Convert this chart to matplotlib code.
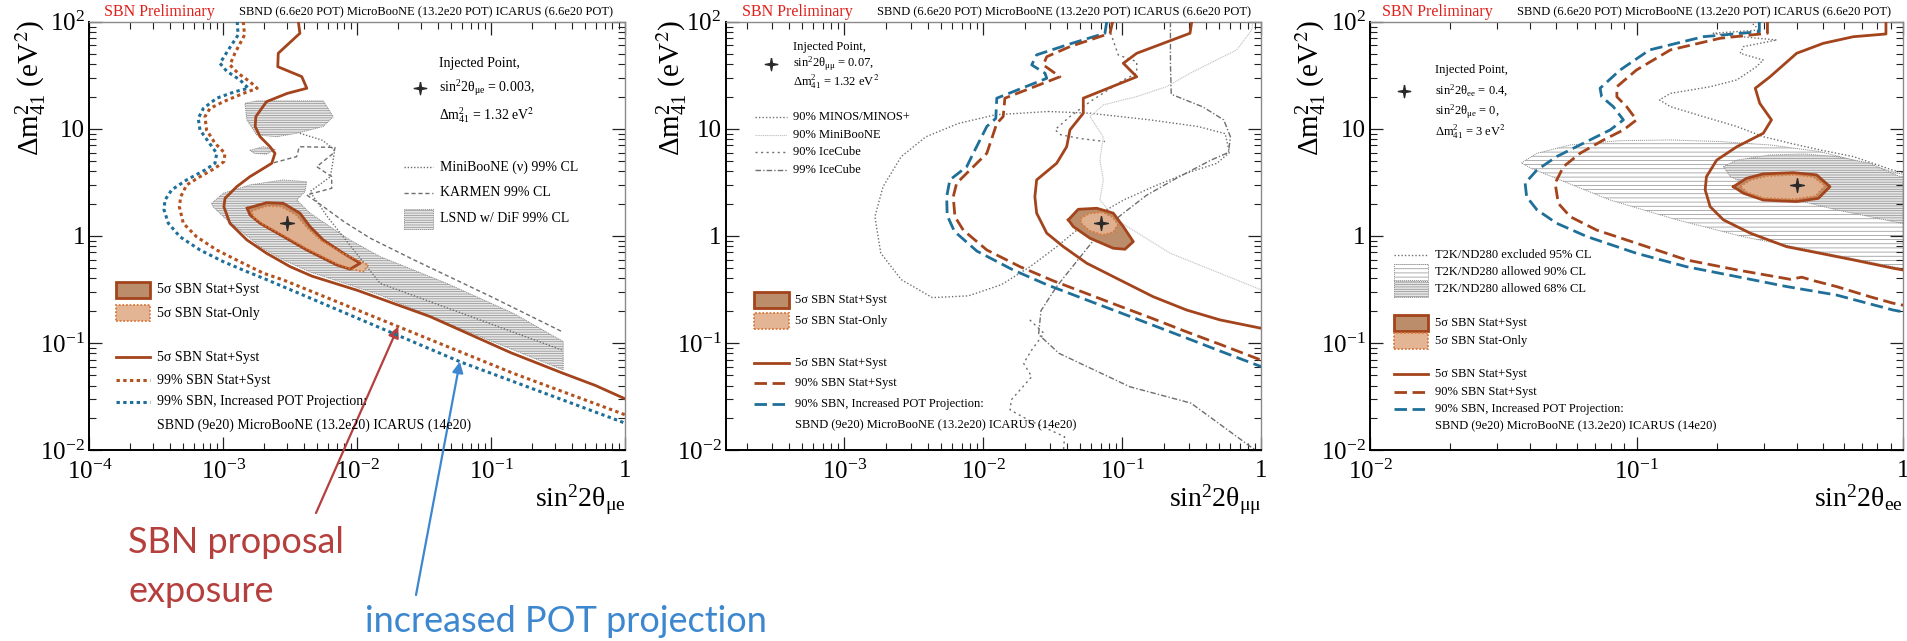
import numpy as np
import matplotlib
matplotlib.use("Agg")
import matplotlib.pyplot as plt
from matplotlib.lines import Line2D
from matplotlib.patches import Rectangle
from matplotlib.ticker import LogLocator, NullFormatter

plt.rcParams['font.family'] = ['Liberation Serif', 'DejaVu Serif']
plt.rcParams['mathtext.fontset'] = 'stix'
plt.rcParams['hatch.linewidth'] = 0.5

# ======================= DATA =======================
# ---- Panel 1: sin^2 2theta_mue ----
p1_solid_x = [3.63e-3, 3.73e-3, 2.57e-3, 2.55e-3, 3.85e-3, 4.2e-3, 3.0e-3, 2.1e-3, 1.75e-3, 1.73e-3, 1.88e-3,
              2.23e-3, 2.43e-3, 2.3e-3, 1.58e-3, 1.26e-3, 1.03e-3, 1.01e-3, 1.12e-3, 1.5e-3, 2.1e-3, 3.15e-3,
              4.6e-3, 1.0e-2, 3.5e-2, 0.14, 0.344, 0.6, 1.0]
p1_solid_y = [100, 78, 50.7, 38, 30.7, 23.9, 21.4, 17.9, 13, 10.5, 8.44, 6.8, 5.9, 4.76, 3.57, 2.88, 2.24, 1.87,
              1.31, 0.916, 0.689, 0.516, 0.42, 0.31, 0.176, 0.081, 0.052, 0.040, 0.030]
p1_dot_x = [1.41e-3, 1.44e-3, 1.22e-3, 1.12e-3, 1.29e-3, 1.58e-3, 1.79e-3, 1.41e-3, 1.0e-3, 7.96e-4, 7.3e-4,
            7.5e-4, 8.67e-4, 1.03e-3, 1.01e-3, 8.67e-4, 6.7e-4, 5.33e-4, 4.81e-4, 4.7e-4, 5.03e-4, 6.32e-4,
            8.93e-4, 1.33e-3, 1.99e-3, 2.81e-3, 2.02e-2, 0.146, 1.0]
p1_dot_y = [100, 75.2, 50.7, 39.5, 33, 27.5, 23.9, 21.4, 17.9, 15.5, 13, 9.75, 7.33, 5.9, 4.93, 4.28, 3.57,
            2.99, 2.32, 1.87, 1.31, 0.98, 0.738, 0.574, 0.448, 0.387, 0.142, 0.052, 0.0213]
p1_blue_x = [1.27e-3, 1.29e-3, 1.09e-3, 9.44e-4, 1.06e-3, 1.33e-3, 1.54e-3, 1.22e-3, 8.93e-4, 7.1e-4, 6.5e-4,
             6.7e-4, 7.73e-4, 8.93e-4, 8.67e-4, 7.3e-4, 5.33e-4, 4.12e-4, 3.67e-4, 3.61e-4, 3.89e-4, 4.75e-4,
             6.7e-4, 1.0e-3, 1.5e-3, 1.99e-3, 5.83e-2, 1.0]
p1_blue_y = [100, 75.2, 54.5, 40.9, 34.5, 28.6, 23.9, 22.2, 19.3, 15.5, 12.5, 9.75, 7.59, 5.9, 4.76, 4.12,
             3.33, 2.69, 2.16, 1.75, 1.31, 0.98, 0.738, 0.574, 0.463, 0.402, 0.0668, 0.0178]
p1_syst_x = [1.51e-3, 2.11e-3, 2.81e-3, 3.73e-3, 4.44e-3, 5.57e-3, 7.86e-3, 1.05e-2, 8.83e-3, 7.02e-3,
             4.19e-3, 2.81e-3, 1.88e-3, 1.58e-3]
p1_syst_y = [1.81, 2.04, 2.01, 1.63, 1.22, 0.916, 0.689, 0.555, 0.488, 0.535, 0.738, 0.984, 1.31, 1.57]
p1_stat_x = [1.62e-3, 2.1e-3, 2.7e-3, 3.5e-3, 4.25e-3, 5.4e-3, 7.9e-3, 1.21e-2, 1.11e-2, 8.9e-3, 7.0e-3,
             4.2e-3, 2.85e-3, 1.95e-3, 1.68e-3]
p1_stat_y = [1.7, 1.9, 1.88, 1.57, 1.18, 0.9, 0.68, 0.535, 0.463, 0.49, 0.55, 0.76, 1.0, 1.3, 1.5]
p1_inj = (0.003, 1.32)
lsnd_up_x = [1.45e-3, 1.77e-3, 5.57e-3, 6.62e-3, 5.57e-3, 3.53e-3, 2.51e-3, 1.77e-3, 1.5e-3]
lsnd_up_y = [17.3, 18.2, 18.2, 13, 10.5, 9.08, 8.43, 8.75, 12.1]
lsnd_small_x = [1.58e-3, 2.0e-3, 2.43e-3, 2.1e-3, 1.7e-3]
lsnd_small_y = [6.3, 6.8, 6.4, 5.8, 5.9]
lsnd_main_x = [8.18e-4, 1.0e-3, 1.58e-3, 2.8e-3, 4.19e-3, 4.07e-3, 3.53e-3, 4.44e-3, 6.25e-3, 8.8e-3, 0.0148,
               0.0465, 0.146, 0.344, 0.344, 0.146, 0.0465, 0.0148, 6.25e-3, 4.44e-3, 2.8e-3, 1.88e-3, 1.33e-3,
               1.0e-3, 8.4e-4]
lsnd_main_y = [2.01, 2.5, 2.99, 3.33, 3.2, 2.59, 2.16, 1.63, 1.22, 0.916, 0.64, 0.36, 0.189, 0.103, 0.056,
               0.086, 0.153, 0.28, 0.40, 0.46, 0.596, 0.794, 1.13, 1.51, 1.87]
karmen_x = [1.58e-3, 2.3e-3, 3.53e-3, 3.69e-3, 6.82e-3, 6.62e-3, 4.98e-3, 6.44e-3, 6.44e-3, 4.19e-3, 5.5e-3,
            8e-3, 0.0125, 0.0262, 0.1, 0.335]
karmen_y = [3.57, 4.76, 5.5, 6.8, 6.7, 5.9, 4.43, 3.57, 2.78, 2.41, 1.9, 1.35, 0.95, 0.6, 0.27, 0.128]
mb1_x = [3.73e-3, 5.5e-3, 6.78e-3, 6.6e-3, 6.3e-3, 4.44e-3, 6.0e-3, 1.48e-2, 8.24e-2, 0.335]
mb1_y = [9.08, 7.8, 6.34, 5.1, 3.57, 2.59, 1.5, 0.36, 0.164, 0.086]

# ---- Panel 2: sin^2 2theta_mumu ----
p2_solid_x = [0.316, 0.307, 0.127, 0.1017, 0.127, 0.0524, 0.0524, 0.042, 0.0398, 0.0337, 0.0242, 0.0235,
              0.0242, 0.0286, 0.0377, 0.0555, 0.0962, 0.167, 0.29, 0.505, 1.0]
p2_solid_y = [100, 78, 50.7, 40.9, 30.6, 19.3, 13.96, 9.75, 6.8, 4.76, 3.33, 2.32, 1.63, 1.06, 0.792, 0.555,
              0.387, 0.27, 0.203, 0.164, 0.137]
p2_dash_x = [0.0853, 0.0816, 0.042, 0.0286, 0.027, 0.0356, 0.0143, 0.0139, 0.0125, 0.0106, 8.02e-3, 6.43e-3,
             6.08e-3, 6.25e-3, 7.18e-3, 0.0106, 0.0184, 0.0319, 0.0555, 0.0962, 0.167, 0.29, 0.505, 1.0]
p2_dash_y = [100, 78, 58.5, 47.1, 39.5, 30.6, 19.3, 13, 11.2, 5.9, 4.12, 3.1, 2.32, 1.51, 1.13, 0.738, 0.515,
             0.38, 0.289, 0.22, 0.168, 0.127, 0.097, 0.069]
p2_blue_x = [0.0773, 0.075, 0.042, 0.0242, 0.0223, 0.0278, 0.0286, 0.0125, 0.0123, 0.0106, 8.47e-3, 7.6e-3,
             5.75e-3, 5.45e-3, 5.5e-3, 6.2e-3, 9.0e-3, 0.0164, 0.0286, 0.0524, 0.0962, 0.167, 0.29, 0.505, 1.0]
p2_blue_y = [100, 78, 62, 49, 39.5, 33, 29.6, 19.3, 12.5, 10.5, 5.9, 4.43, 3.33, 2.32, 1.55, 1.1, 0.72, 0.48,
             0.35, 0.259, 0.192, 0.146, 0.111, 0.084, 0.060]
p2_syst_x = [0.0409, 0.0482, 0.0655, 0.0861, 0.1017, 0.12, 0.1045, 0.0861, 0.0586, 0.0444]
p2_syst_y = [1.41, 1.77, 1.81, 1.63, 1.22, 0.883, 0.75, 0.766, 0.95, 1.22]
p2_stat_x = [0.05, 0.058, 0.072, 0.085, 0.093, 0.086, 0.072, 0.058, 0.051]
p2_stat_y = [1.45, 1.62, 1.66, 1.5, 1.28, 1.08, 1.02, 1.12, 1.3]
p2_inj = (0.07, 1.32)
minos_x = [0.0293, 0.0575, 0.159, 0.35, 0.55, 0.59, 0.48, 0.29, 0.167, 0.102, 0.073, 0.047, 0.0337, 0.0217,
           0.0135, 7.8e-3, 4.3e-3, 2.57e-3, 1.83e-3, 1.66e-3, 1.9e-3, 2.57e-3, 3.85e-3, 6.6e-3, 0.0122, 0.0293]
minos_y = [14.5, 14, 12.1, 10.5, 9, 6, 4.76, 3.85, 2.88, 2.16, 1.68, 1.13, 0.79, 0.515, 0.35, 0.275, 0.265,
           0.39, 0.69, 1.51, 2.88, 5.5, 8.4, 11.2, 13.5, 14.5]
mbn2_x = [0.87, 0.853, 0.665, 0.307, 0.208, 0.127, 0.073, 0.0586, 0.073, 0.069, 0.073, 0.069, 0.091, 0.22, 1.0]
mbn2_y = [100, 83.6, 54.5, 33, 24.7, 20, 16.7, 13, 8.4, 5.1, 3.33, 2.16, 1.41, 0.69, 0.313]
ic90_x = [0.0816, 0.082, 0.0935, 0.127, 0.127, 0.1017, 0.0586, 0.042, 0.0328, 0.036, 0.05, 0.075]
ic90_y = [100, 80, 48.9, 42.4, 33, 28.5, 17.9, 13, 9.8, 8.8, 8.1, 7.6]
ic90b_x = [0.0216, 0.0273, 0.0223, 0.0195, 0.0223, 0.0159, 0.0156, 0.0212, 0.0384, 0.0378]
ic90b_y = [0.164, 0.123, 0.086, 0.0645, 0.0484, 0.0294, 0.0237, 0.019, 0.0133, 0.01]
ic99_x = [0.222, 0.222, 0.225, 0.38, 0.537, 0.6, 0.58, 0.435, 0.25, 0.15, 0.1, 0.07, 0.0524, 0.0337, 0.026,
          0.025, 0.035, 0.113, 0.312, 0.857, 1.0]
ic99_y = [100, 40, 21, 16, 12.1, 8.4, 6, 5.1, 3.5, 2.4, 1.6, 1.1, 0.69, 0.336, 0.2, 0.12, 0.08, 0.039, 0.0274,
          0.0105, 0.0095]

# ---- Panel 3: sin^2 2theta_ee ----
p3_solid_x = [0.863, 0.863, 0.651, 0.502, 0.399, 0.317, 0.279, 0.29, 0.321, 0.299, 0.238, 0.2, 0.183, 0.181,
              0.189, 0.212, 0.267, 0.366, 0.489, 0.651, 0.917, 1.0]
p3_solid_y = [100, 76.8, 72.4, 62.8, 50.7, 30.6, 23.9, 17.3, 12.1, 9.08, 6.8, 5.1, 3.57, 2.69, 1.87, 1.41,
              1.06, 0.792, 0.687, 0.596, 0.499, 0.48]
p3_dash_x = [0.31, 0.31, 0.206, 0.134, 0.1, 0.0844, 0.0844, 0.0918, 0.1, 0.0893, 0.0752, 0.0614, 0.0532,
             0.0495, 0.0509, 0.0564, 0.071, 0.1, 0.154, 0.238, 0.377, 0.417, 0.461, 0.563, 0.752, 0.917, 1.0]
p3_dash_y = [100, 78, 70, 54.5, 35.4, 24.7, 19.9, 16.1, 12.1, 9.75, 7.86, 5.9, 4.43, 3.1, 2.01, 1.51, 1.13,
             0.853, 0.596, 0.481, 0.393, 0.411, 0.382, 0.336, 0.27, 0.235, 0.225]
p3_blue_x = [0.289, 0.289, 0.178, 0.112, 0.0868, 0.073, 0.074, 0.0818, 0.0893, 0.0796, 0.0632, 0.0502, 0.0423,
             0.0382, 0.0387, 0.0423, 0.0502, 0.0652, 0.1, 0.154, 0.238, 0.366, 0.563, 0.917, 1.0]
p3_blue_y = [100, 80.7, 72.4, 54.5, 35.4, 23.9, 19.9, 16.1, 12.1, 9.75, 7.33, 5.5, 4.12, 3.1, 2.32, 1.75, 1.31,
             0.984, 0.687, 0.515, 0.416, 0.336, 0.28, 0.203, 0.195]
p3_syst_x = [0.231, 0.259, 0.299, 0.387, 0.474, 0.532, 0.481, 0.399, 0.299, 0.252]
p3_syst_y = [2.88, 3.45, 3.79, 3.89, 3.71, 2.88, 2.24, 2.09, 2.16, 2.5]
p3_stat_x = [0.245, 0.27, 0.31, 0.39, 0.46, 0.51, 0.47, 0.39, 0.3, 0.26]
p3_stat_y = [2.9, 3.35, 3.62, 3.72, 3.55, 2.95, 2.35, 2.2, 2.25, 2.55]
p3_inj = (0.4, 3.0)
t2k_excl_x = [0.267, 0.29, 0.194, 0.212, 0.336, 0.252, 0.245, 0.299, 0.282, 0.238, 0.189, 0.134, 0.122, 0.134,
              0.178, 0.238, 0.299, 0.377, 0.489, 0.651, 0.917, 1.0]
t2k_excl_y = [100, 83.6, 78, 75, 67.5, 58.5, 50.7, 43.8, 38, 28.6, 24.7, 21.4, 18.6, 16.1, 13, 10.5, 8.44, 7.33,
              6.34, 5.5, 4.1, 3.9]
t2k90_x = [0.037, 0.0423, 0.0564, 0.0868, 0.134, 0.206, 0.317, 0.489, 0.651, 0.917, 1.0, 1.0, 0.975, 0.448,
           0.252, 0.142, 0.0796, 0.0516, 0.04]
t2k90_y = [4.8, 5.9, 7.06, 7.74, 7.86, 7.6, 7.06, 6.11, 5.1, 3.95, 3.75, 0.48, 0.5, 0.738, 0.98, 1.41, 2.16,
           3.33, 4.3]
t2k68_x = [0.212, 0.238, 0.317, 0.424, 0.563, 0.752, 0.917, 1.0, 1.0, 0.917, 0.752, 0.563, 0.424, 0.271, 0.225]
t2k68_y = [4.43, 5.1, 5.69, 5.82, 5.5, 4.76, 3.8, 3.5, 1.3, 1.36, 1.51, 1.75, 2.08, 2.88, 3.57]

# ======================= STYLE =======================
W, H = 1907, 641
BROWN = '#a3441c'
BROWN_DOT = '#b3521f'
BLUE = '#1f6f98'
SYST_FILL = '#bb8d6b'
STAT_FILL = '#e3b594'
STAT_EDGE = '#d9783c'
GRAY = '#6e6e6e'
LIGHT = '#c2c2c2'
HATCH_FACE = '#e6e6e6'
HATCH_EDGE = '#8e8e8e'
RED_T = '#e0201b'
RED_A = '#b53f3c'
BLUE_A = '#3c87cf'
STAR = [(0, 1), (0.16, 0.16), (1, 0), (0.16, -0.16), (0, -1), (-0.16, -0.16), (-1, 0), (-0.16, 0.16), (0, 1)]

fig = plt.figure(figsize=(W / 100, H / 100), dpi=100)


def fx(X):
    return X / W


def fy(Y):
    return 1 - Y / H


def closed(a):
    return list(a) + [a[0]]


ylab_ticks = [1e-2, 1e-1, 1, 10, 100]
ylab_text = [r'$\mathregular{10^{-2}}$', r'$\mathregular{10^{-1}}$', '1', '10', r'$\mathregular{10^{2}}$']


def make_axes(left_px, width_px, xlim, xticks, xlabels, xlab, ylab_x):
    ax = fig.add_axes([fx(left_px), 191 / H, width_px / W, 428.3 / H])
    ax.set_xscale('log')
    ax.set_yscale('log')
    ax.set_xlim(*xlim)
    ax.set_ylim(1e-2, 1e2)
    ax.set_xticks(xticks, xlabels)
    ax.set_yticks(ylab_ticks, ylab_text)
    for a in (ax.xaxis, ax.yaxis):
        a.set_minor_locator(LogLocator(base=10, subs=np.arange(2, 10), numticks=60))
        a.set_minor_formatter(NullFormatter())
    ax.tick_params(which='both', direction='in', top=True, right=True, labelsize=18, color='#222')
    ax.tick_params(which='major', length=9.5, width=0.9)
    ax.tick_params(which='minor', length=5, width=0.8)
    ax.tick_params(axis='x', pad=7)
    ax.tick_params(axis='y', pad=3)
    for s in ('left', 'bottom'):
        ax.spines[s].set_linewidth(1.4)
        ax.spines[s].set_color('black')
    for s in ('top', 'right'):
        ax.spines[s].set_linewidth(1.0)
        ax.spines[s].set_color('#8a8a8a')
    ax.text(1.0, -0.077, xlab, transform=ax.transAxes, ha='right', va='top', fontsize=20)
    ax.text(ylab_x, 1.004, r'$\mathregular{\Delta m^{2}_{41}}$ (eV$^{2}$)', transform=ax.transAxes,
            rotation=90, ha='center', va='top', fontsize=21)
    return ax


def header(x_red, x_black_right):
    fig.text(fx(x_red), fy(12.5), 'SBN Preliminary', color=RED_T, fontsize=11.5, va='center', ha='left')
    fig.text(fx(x_black_right), fy(12.5), 'SBND (6.6e20 POT) MicroBooNE (13.2e20 POT) ICARUS (6.6e20 POT)',
             fontsize=9, va='center', ha='right')


def sbn_regions(ax, sx, sy, tx, ty):
    ax.fill(sx, sy, facecolor=SYST_FILL, edgecolor='none', zorder=5)
    ax.fill(tx, ty, facecolor=STAT_FILL, edgecolor='none', alpha=0.9, zorder=6)
    ax.plot(closed(sx), closed(sy), color=BROWN, lw=2.0, zorder=7)
    ax.plot(closed(tx), closed(ty), color=STAT_EDGE, lw=1.3, ls=(0, (1, 1)), zorder=7)


def inj(ax, p):
    ax.plot([p[0]], [p[1]], marker=STAR, ms=10, color='#2a2a2a', zorder=9, lw=0)


def leg_line(X0, X1, Y, **kw):
    fig.add_artist(Line2D([fx(X0), fx(X1)], [fy(Y), fy(Y)], transform=fig.transFigure, **kw))


def leg_box(X0, X1, Y0, Y1, **kw):
    fig.add_artist(Rectangle((fx(X0), fy(Y1)), fx(X1) - fx(X0), fy(Y0) - fy(Y1), transform=fig.transFigure,
                             **kw))


def leg_text(X, Y, s, size):
    fig.text(fx(X), fy(Y), s, fontsize=size, va='center', ha='left')


def leg_marker(X, Y):
    fig.add_artist(Line2D([fx(X)], [fy(Y)], marker=STAR, ms=9, color='#2a2a2a', lw=0,
                          transform=fig.transFigure))


def sbn_legend(X0, X1, Xt, yb1, yb2, yl, size, dotted):
    leg_box(X0, X1, yb1 - 8, yb1 + 8, facecolor=SYST_FILL, edgecolor=BROWN, lw=2)
    leg_text(Xt, yb1, '5σ SBN Stat+Syst', size)
    leg_box(X0, X1, yb2 - 8, yb2 + 8, facecolor=STAT_FILL, edgecolor=STAT_EDGE, lw=1.3, ls=(0, (1, 1)))
    leg_text(Xt, yb2, '5σ SBN Stat-Only', size)
    leg_line(X0, X1, yl[0], color=BROWN, lw=2)
    leg_text(Xt, yl[0], '5σ SBN Stat+Syst', size)
    if dotted:
        leg_line(X0, X1, yl[1], color=BROWN_DOT, lw=2.2, ls=(0, (1.1, 1.1)))
        leg_text(Xt, yl[1], '99% SBN Stat+Syst', size)
        leg_line(X0, X1, yl[2], color=BLUE, lw=2.2, ls=(0, (1.1, 1.1)))
        leg_text(Xt, yl[2], '99% SBN, Increased POT Projection:', size)
    else:
        leg_line(X0, X1, yl[1], color=BROWN, lw=2.0, ls=(0, (4.5, 2)))
        leg_text(Xt, yl[1], '90% SBN Stat+Syst', size)
        leg_line(X0, X1, yl[2], color=BLUE, lw=2.0, ls=(0, (4.5, 2)))
        leg_text(Xt, yl[2], '90% SBN, Increased POT Projection:', size)
    leg_text(Xt, yl[3], 'SBND (9e20) MicroBooNE (13.2e20) ICARUS (14e20)', size)


def hatched(ax, xs, ys, face, dens, z):
    ax.fill(xs, ys, facecolor=face, edgecolor=HATCH_EDGE, hatch=dens, lw=0, zorder=z)
    ax.plot(closed(xs), closed(ys), color='#8a8a8a', lw=0.7, ls=(0, (1, 1)), zorder=z + 0.3)


# ======================= PANEL 1 =======================
ax1 = make_axes(89.3, 536, (1e-4, 1), [1e-4, 1e-3, 1e-2, 1e-1, 1],
                [r'$\mathregular{10^{-4}}$', r'$\mathregular{10^{-3}}$', r'$\mathregular{10^{-2}}$',
                 r'$\mathregular{10^{-1}}$', '1'],
                r'$\mathregular{sin^{2}2\theta_{\mu e}}$', -0.108)
for lx, ly in ((lsnd_up_x, lsnd_up_y), (lsnd_small_x, lsnd_small_y), (lsnd_main_x, lsnd_main_y)):
    hatched(ax1, lx, ly, HATCH_FACE, '-------', 1)
ax1.plot(karmen_x, karmen_y, color=GRAY, lw=1.0, ls=(0, (3, 2)), zorder=2)
ax1.plot(mb1_x, mb1_y, color=GRAY, lw=1.0, ls=(0, (1, 1.3)), zorder=2)
ax1.plot(p1_blue_x, p1_blue_y, color=BLUE, lw=2.2, ls=(0, (1.1, 1.1)), zorder=4)
ax1.plot(p1_dot_x, p1_dot_y, color=BROWN_DOT, lw=2.2, ls=(0, (1.1, 1.1)), zorder=4)
ax1.plot(p1_solid_x, p1_solid_y, color=BROWN, lw=2.0, zorder=4)
sbn_regions(ax1, p1_syst_x, p1_syst_y, p1_stat_x, p1_stat_y)
inj(ax1, p1_inj)
header(104, 613)

leg_text(439, 63, 'Injected Point,', 10)
leg_marker(420, 88)
leg_text(439, 88, r'$\mathregular{sin^{2}2\theta_{\mu e}}$ = 0.003,', 10)
leg_text(439, 115, r'$\mathregular{\Delta m^{2}_{41}}$ = 1.32 eV$^{2}$', 10)
leg_line(404, 433, 167, color=GRAY, lw=1.0, ls=(0, (1, 1.3)))
leg_text(440, 167, 'MiniBooNE (ν) 99% CL', 10)
leg_line(404, 433, 193, color=GRAY, lw=1.0, ls=(0, (3, 2)))
leg_text(440, 193, 'KARMEN 99% CL', 10)
leg_box(404, 433, 209, 229, facecolor=HATCH_FACE, edgecolor=HATCH_EDGE, hatch='-------', lw=0.7, ls=(0, (1, 1)))
leg_text(440, 219, 'LSND w/ DiF 99% CL', 10)
sbn_legend(116, 150, 157, 290, 313, [357, 380, 402, 425], 10, True)

# annotations
ax1.annotate('', xy=(0.0202, 0.142), xycoords='data', xytext=(fx(316), fy(513)),
             textcoords='figure fraction', annotation_clip=False,
             arrowprops=dict(arrowstyle='-|>', color=RED_A, lw=1.6, mutation_scale=16, shrinkA=0, shrinkB=0))
ax1.annotate('', xy=(0.0583, 0.0668), xycoords='data', xytext=(fx(416), fy(595)),
             textcoords='figure fraction', annotation_clip=False,
             arrowprops=dict(arrowstyle='-|>', color=BLUE_A, lw=1.6, mutation_scale=16, shrinkA=0, shrinkB=0))
fig.text(fx(128), fy(553), 'SBN proposal', color=RED_A, fontsize=26, family='Lato', va='baseline')
fig.text(fx(128), fy(602), 'exposure', color=RED_A, fontsize=26, family='Lato', va='baseline')
fig.text(fx(365), fy(632), 'increased POT projection', color=BLUE_A, fontsize=26, family='Lato', va='baseline')

# ======================= PANEL 2 =======================
ax2 = make_axes(725.6, 535.7, (1.4e-4, 1), [1e-3, 1e-2, 1e-1, 1],
                [r'$\mathregular{10^{-3}}$', r'$\mathregular{10^{-2}}$', r'$\mathregular{10^{-1}}$', '1'],
                r'$\mathregular{sin^{2}2\theta_{\mu\mu}}$', -0.100)
ax2.plot(minos_x, minos_y, color=GRAY, lw=1.0, ls=(0, (1, 1.5)), zorder=2)
ax2.plot(mbn2_x, mbn2_y, color=LIGHT, lw=0.8, ls=(0, (1, 0.7)), zorder=2)
ax2.plot(ic90_x, ic90_y, color=GRAY, lw=1.0, ls=(0, (1.5, 2.5)), zorder=2)
ax2.plot(ic90b_x, ic90b_y, color=GRAY, lw=1.0, ls=(0, (1.5, 2.5)), zorder=2)
ax2.plot(ic99_x, ic99_y, color=GRAY, lw=1.0, ls=(0, (4, 1.5, 1, 1.5)), zorder=2)
ax2.plot(p2_blue_x, p2_blue_y, color=BLUE, lw=2.0, ls=(0, (4.5, 2)), zorder=4)
ax2.plot(p2_dash_x, p2_dash_y, color=BROWN, lw=2.0, ls=(0, (4.5, 2)), zorder=4)
ax2.plot(p2_solid_x, p2_solid_y, color=BROWN, lw=2.0, zorder=4)
sbn_regions(ax2, p2_syst_x, p2_syst_y, p2_stat_x, p2_stat_y)
inj(ax2, p2_inj)
header(742, 1251)

leg_text(793, 47, 'Injected Point,', 9)
leg_marker(770.6, 64)
leg_text(793, 64, r'$\mathregular{sin^{2}2\theta_{\mu\mu}}$ = 0.07,', 9)
leg_text(793, 82, r'$\mathregular{\Delta m^{2}_{41}}$ = 1.32 eV$^{2}$', 9)
leg_line(755, 787, 117, color=GRAY, lw=1.0, ls=(0, (1, 1.5)))
leg_text(793, 117, '90% MINOS/MINOS+', 9)
leg_line(755, 787, 135, color=LIGHT, lw=0.8, ls=(0, (1, 0.7)))
leg_text(793, 135, '90% MiniBooNE', 9)
leg_line(755, 787, 152, color=GRAY, lw=1.0, ls=(0, (1.5, 2.5)))
leg_text(793, 152, '90% IceCube', 9)
leg_line(755, 787, 170, color=GRAY, lw=1.0, ls=(0, (4, 1.5, 1, 1.5)))
leg_text(793, 170, '99% IceCube', 9)
sbn_legend(754, 789, 795, 300, 321, [363, 383, 404, 425], 9, False)

# ======================= PANEL 3 =======================
ax3 = make_axes(1370, 533, (1e-2, 1), [1e-2, 1e-1, 1],
                [r'$\mathregular{10^{-2}}$', r'$\mathregular{10^{-1}}$', '1'],
                r'$\mathregular{sin^{2}2\theta_{ee}}$', -0.109)
hatched(ax3, t2k90_x, t2k90_y, 'white', '----', 1)
hatched(ax3, t2k68_x, t2k68_y, HATCH_FACE, '-------', 1.4)
ax3.plot(t2k_excl_x, t2k_excl_y, color=GRAY, lw=1.0, ls=(0, (1, 1.5)), zorder=2)
ax3.plot(p3_blue_x, p3_blue_y, color=BLUE, lw=2.0, ls=(0, (4.5, 2)), zorder=4)
ax3.plot(p3_dash_x, p3_dash_y, color=BROWN, lw=2.0, ls=(0, (4.5, 2)), zorder=4)
ax3.plot(p3_solid_x, p3_solid_y, color=BROWN, lw=2.0, zorder=4)
sbn_regions(ax3, p3_syst_x, p3_syst_y, p3_stat_x, p3_stat_y)
inj(ax3, p3_inj)
header(1382, 1891)

leg_text(1435, 70, 'Injected Point,', 9)
leg_marker(1404, 90.7)
leg_text(1435, 90.7, r'$\mathregular{sin^{2}2\theta_{ee}}$ = 0.4,', 9)
leg_text(1435, 111.7, r'$\mathregular{sin^{2}2\theta_{\mu e}}$ = 0,', 9)
leg_text(1435, 131.7, r'$\mathregular{\Delta m^{2}_{41}}$ = 3 eV$^{2}$', 9)
leg_line(1394, 1428, 255, color=GRAY, lw=1.0, ls=(0, (1, 1.5)))
leg_text(1435, 255, 'T2K/ND280 excluded 95% CL', 9)
leg_box(1394, 1428, 264, 280, facecolor='white', edgecolor=HATCH_EDGE, hatch='----', lw=0.7, ls=(0, (1, 1)))
leg_text(1435, 272, 'T2K/ND280 allowed 90% CL', 9)
leg_box(1394, 1428, 281, 297, facecolor=HATCH_FACE, edgecolor=HATCH_EDGE, hatch='-------', lw=0.7,
        ls=(0, (1, 1)))
leg_text(1435, 289, 'T2K/ND280 allowed 68% CL', 9)
sbn_legend(1394, 1428, 1435, 323, 341, [374, 392, 409, 426], 9, False)

fig.savefig('out.png', dpi=100)
